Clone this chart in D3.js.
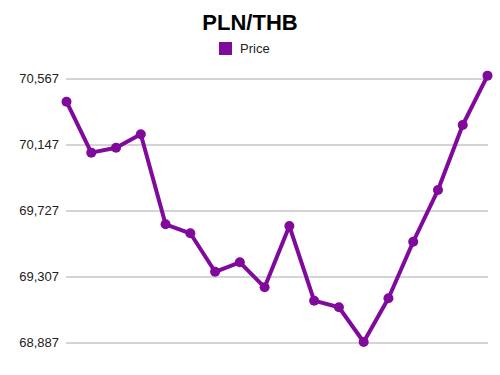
<!DOCTYPE html>
<html>
<head>
<meta charset="utf-8">
<script src="https://cdn.jsdelivr.net/npm/d3@7"></script>
<style>
  body { margin: 0; background: #fff; }
  svg { display: block; font-family: "Liberation Sans", Arial, sans-serif; }
</style>
</head>
<body>
<svg id="chart" width="500" height="375"></svg>
<script>
// data
const title = 'PLN/THB';
const seriesName = 'Price';
const points = d3.range(1, 19);
const prices = [
  70416, 70092, 70123, 70209, 69636, 69579, 69334, 69394, 69235,
  69625, 69150, 69108, 68887, 69165, 69525, 69854, 70268, 70582
];
const tickValues = [68887, 69307, 69727, 70147, 70567];

const svg = d3.select('#chart');
const color = '#7f0a9c';

const x = d3.scalePoint()
  .domain(points)
  .range([66.5, 487.5]);

const y = d3.scaleLinear()
  .domain([68887, 70567])
  .range([342, 78]);

// grid + labels
const yAxis = d3.axisLeft(y)
  .tickValues(tickValues)
  .tickSize(-(488 - 66))
  .tickPadding(7)
  .tickFormat(d3.format(','));

const g = svg.append('g')
  .attr('transform', 'translate(66,0)')
  .call(yAxis);
g.select('.domain').remove();
g.selectAll('.tick line')
  .attr('stroke', '#aaa')
  .attr('stroke-width', 1)
  .attr('transform', 'translate(0,0.5)');
g.selectAll('.tick text')
  .attr('fill', '#222')
  .attr('font-size', 13)
  .attr('font-family', '"Liberation Sans", Arial, sans-serif');

// title
svg.append('text')
  .attr('x', 250)
  .attr('y', 30)
  .attr('text-anchor', 'middle')
  .attr('font-size', 22)
  .attr('font-weight', 'bold')
  .attr('fill', '#000')
  .text(title);

// legend
svg.append('rect')
  .attr('x', 219)
  .attr('y', 42)
  .attr('width', 13)
  .attr('height', 13)
  .attr('fill', color);
svg.append('text')
  .attr('x', 240)
  .attr('y', 53)
  .attr('font-size', 13)
  .attr('fill', '#222')
  .text(seriesName);

// line
const line = d3.line()
  .x((d, i) => x(points[i]))
  .y(d => y(d));

svg.append('path')
  .datum(prices)
  .attr('fill', 'none')
  .attr('stroke', color)
  .attr('stroke-width', 4)
  .attr('stroke-linejoin', 'round')
  .attr('d', line);

svg.selectAll('circle.pt')
  .data(prices)
  .join('circle')
  .attr('class', 'pt')
  .attr('cx', (d, i) => x(points[i]))
  .attr('cy', d => y(d))
  .attr('r', 5)
  .attr('fill', color);
</script>
</body>
</html>
